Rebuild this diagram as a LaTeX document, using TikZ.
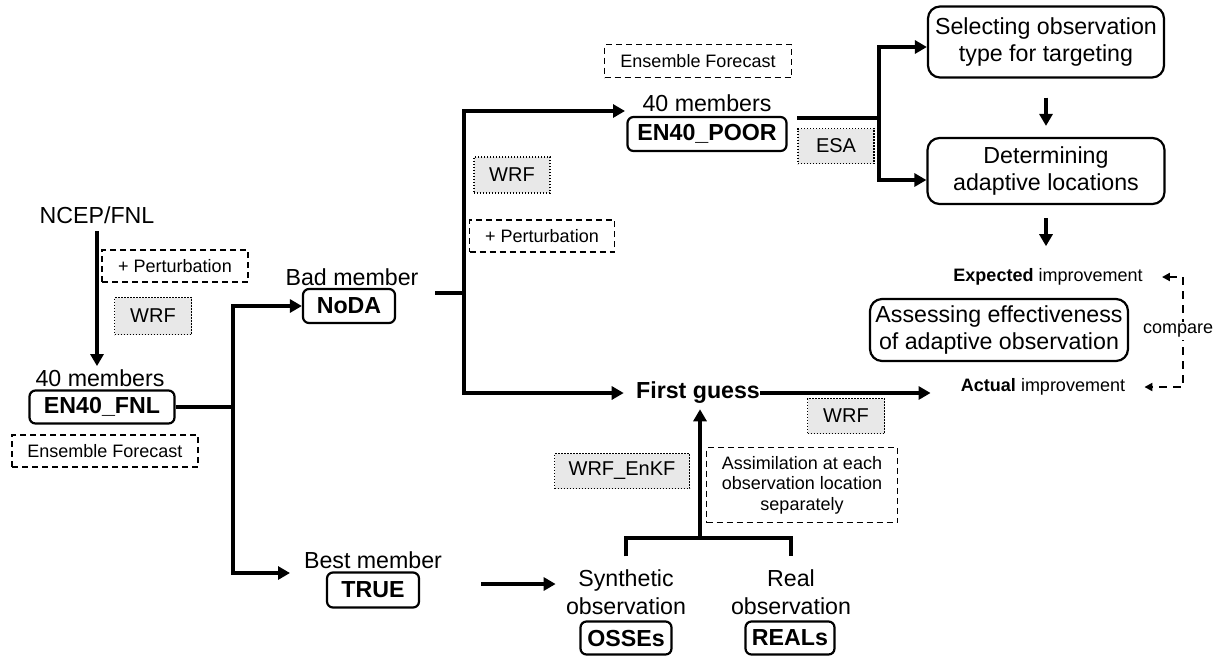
\documentclass[tikz,border=0pt]{standalone}
\usepackage{fontspec}
\setmainfont{Liberation Sans}
\usetikzlibrary{arrows.meta}

\begin{document}
\begin{tikzpicture}[x=0.5pt,y=-0.5pt,
  every node/.style={inner sep=0pt},
  txt/.style={font=\fontsize{11.6}{13.8}\selectfont, align=center},
  tag/.style={draw, line width=1.1pt, rounded corners=3pt,
    font=\fontsize{11.6}{13.8}\selectfont\bfseries},
  bigbox/.style={draw, line width=1.1pt, rounded corners=6pt, align=center,
    font=\fontsize{11.6}{13.5}\selectfont},
  dbox/.style={draw, line width=0.85pt, dash pattern=on 3pt off 2pt,
    align=center, font=\fontsize{9}{10.25}\selectfont},
  gbox/.style={draw, line width=0.9pt, dash pattern=on 0.6pt off 0.9pt,
    fill=gray!18, font=\fontsize{10}{12}\selectfont},
  small/.style={font=\fontsize{9}{11}\selectfont},
  conn/.style={line width=1.8pt},
  arr/.style={conn, -{Triangle[length=6pt,width=6.5pt]}},
  cmpline/.style={line width=1.2pt, dash pattern=on 4pt off 3pt,
    {Triangle[length=4pt,width=4pt]}-{Triangle[length=4pt,width=4pt]}},
]
\useasboundingbox (0,0) rectangle (1224,660);

% ---- initial ensemble ----
\node[txt] (ncep) at (97,215) {NCEP/FNL};
\node[dbox, minimum width=73pt, minimum height=16pt] (pert1) at (175,266) {+ Perturbation};
\node[gbox, minimum width=38.5pt, minimum height=18.5pt] (wrf1) at (153,316) {WRF};
\node[txt] (m40a) at (100,378) {40 members};
\node[tag, minimum width=72.5pt, minimum height=16.5pt] (fnl) at (102,407) {EN40\_FNL};
\node[dbox, minimum width=93pt, minimum height=16pt] (ens1) at (105,451) {Ensemble Forecast};

% ---- bad and best members ----
\node[txt] (badm) at (352,277) {Bad member};
\node[tag, minimum width=46pt, minimum height=17pt] (noda) at (349,306) {NoDA};
\node[txt] (bestm) at (373,560) {Best member};
\node[tag, minimum width=46pt, minimum height=17.5pt] (true) at (373,590) {TRUE};

% ---- poor ensemble ----
\node[dbox, minimum width=93.5pt, minimum height=16.5pt] (ens2) at (698,61) {Ensemble Forecast};
\node[gbox, minimum width=38pt, minimum height=18pt] (wrf2) at (512,175) {WRF};
\node[dbox, minimum width=72.5pt, minimum height=16pt] (pert2) at (542,236) {+ Perturbation};
\node[txt] (m40b) at (707,103) {40 members};
\node[tag, minimum width=79.5pt, minimum height=17pt] (poor) at (707,134) {EN40\_POOR};
\node[gbox, minimum width=38pt, minimum height=17.5pt] (esa) at (836,146) {ESA};

% ---- targeting steps ----
\node[bigbox, minimum width=118pt, minimum height=35.5pt] (sel) at (1046,42) {Selecting observation\\type for targeting};
\node[bigbox, minimum width=118.5pt, minimum height=33pt] (det) at (1046,171) {Determining\\adaptive locations};
\node[small] (exp) at (1048,277) {\textbf{Expected} improvement};
\node[bigbox, minimum width=129pt, minimum height=31pt] (ass) at (999,330) {Assessing effectiveness\\of adaptive observation};
\node[small] (act) at (1043,387) {\textbf{Actual} improvement};

% ---- first guess and observations ----
\node[txt, font=\fontsize{11.6}{13.8}\selectfont\bfseries] (fg) at (698,393) {First guess};
\node[gbox, minimum width=38.5pt, minimum height=17.5pt] (wrf3) at (846,416) {WRF};
\node[gbox, minimum width=67.5pt, minimum height=17.5pt] (enkf) at (622,471) {WRF\_EnKF};
\node[dbox, minimum width=95.5pt, minimum height=37.5pt] (assim) at (802,485) {Assimilation at each\\observation location\\separately};
\node[txt] (syn) at (626,592) {Synthetic\\observation};
\node[tag, minimum width=45.5pt, minimum height=16.5pt] (osse) at (626,638) {OSSEs};
\node[txt] (real) at (791,592) {Real\\observation};
\node[tag, minimum width=44.5pt, minimum height=16.5pt] (reals) at (790,638) {REALs};

% ---- junctions ----
\coordinate (j1) at (233,407);
\coordinate (bestin) at (290,573);
\coordinate (nodaout) at (435,293);
\coordinate (j2) at (464,293);
\coordinate (poorin) at (625,111);
\coordinate (poorout) at (797,118);
\coordinate (j3) at (879,118);
\coordinate (br) at (700,538);
\coordinate (cmpR) at (1183,331);

% ---- connectors ----
\draw[arr, shorten <=3.5pt, shorten >=1.5pt] (ncep.south) -- (ncep.south |- m40a.north);
\draw[conn] (fnl.east) -- (j1);
\draw[arr] (j1) |- (noda.west);
\draw[arr] (j1) |- (bestin);
\draw[conn] (nodaout) -- (j2);
\draw[arr] (j2) |- (poorin);
\draw[arr, shorten >=6pt] (j2) |- (fg.west);
\draw[conn] (poorout) -- (j3);
\draw[arr] (j3) |- ([yshift=-2.5pt]sel.west);
\draw[arr] (j3) |- ([yshift=-4.5pt]det.west);
\draw[arr, shorten <=9.5pt, shorten >=5.5pt] (sel.south) -- (det.north);
\draw[arr, shorten <=6.5pt, shorten >=11pt] (det.south) -- (det.south |- exp.north);
\draw[arr, shorten >=15pt] (fg.east) -- (act.west |- fg.east);
\draw[arr, shorten >=2.5pt] (br) -- (br |- fg.south);
\draw[conn] ([yshift=6.5pt]syn.north) |- (br) -| ([yshift=6.5pt]real.north);
\draw[arr, shorten <=30.5pt, shorten >=5pt] (true.east |- 0,584) -- (syn.west |- 0,584);
\draw[cmpline] ([xshift=9.5pt]exp.east) -| (cmpR) |- ([xshift=9.5pt]act.east);
\node[small, fill=white, inner sep=1pt] (cmp) at (1178,331) {compare};
\end{tikzpicture}
\end{document}
